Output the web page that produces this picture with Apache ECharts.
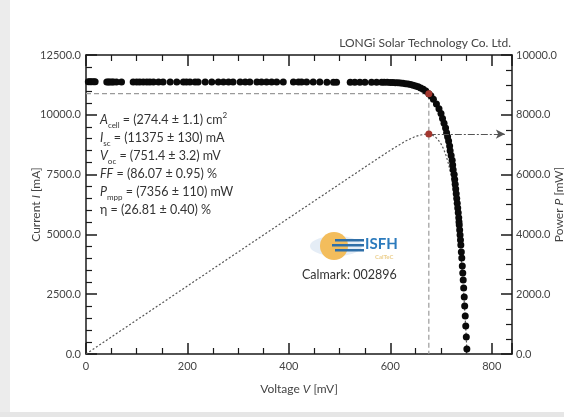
<!DOCTYPE html>
<html>
<head>
<meta charset="utf-8">
<script src="https://cdn.jsdelivr.net/npm/echarts@6/dist/echarts.min.js"></script>
<style>
  html, body { margin: 0; padding: 0; background: #fff; }
  #wrap { position: relative; width: 564px; height: 417px; overflow: hidden; }
  .edge-left { position: absolute; left: 0; top: 0; width: 10px; height: 417px; background: #ececec; }
  .edge-bottom { position: absolute; left: 0; top: 412px; width: 564px; height: 5px; background: #e6e6e6; }
  #chart { position: absolute; left: 0; top: 0; width: 564px; height: 417px; }
</style>
</head>
<body>
<div id="wrap">
  <div class="edge-left"></div>
  <div class="edge-bottom"></div>
  <div id="chart"></div>
</div>
<script>
var ivVoltage = [4.6, 8, 11, 15, 18, 41, 44, 47, 51, 54, 60, 70, 93, 100, 106, 113, 120, 126, 133, 143,
  152, 166, 179, 192, 198, 205, 215, 221, 235, 248, 261, 271, 281, 290, 304, 314, 323, 337, 346, 356,
  366, 376, 389, 409, 419, 425, 435, 448, 461, 475, 488, 494, 521, 530, 540, 550, 563, 573, 583,
  588, 594, 600, 605, 610, 615, 620, 625, 630, 635, 640, 645, 650, 655, 660, 665, 670, 676, 680,
  685, 691, 696, 700, 703, 706, 709, 711, 713, 715, 717, 718, 720, 722, 723, 724, 726, 727, 728,
  729, 730, 731, 732, 733, 734, 735, 735.5, 736, 736.8, 737.6, 738.4, 739.1, 740.1, 741, 742,
  742.9, 743.8, 744.7, 745.8, 746.7, 747.8, 748.8, 749.9, 751];
var ivCurrent = [11378, 11378, 11377, 11377, 11377, 11376, 11376, 11376, 11376, 11375, 11375, 11375, 11375, 11375, 11375, 11374, 11374, 11374, 11374, 11374,
  11374, 11373, 11373, 11373, 11373, 11372, 11372, 11372, 11372, 11372, 11371, 11371, 11371, 11371, 11370, 11370, 11370, 11370, 11369, 11369,
  11369, 11369, 11368, 11368, 11368, 11367, 11367, 11367, 11367, 11366, 11366, 11366, 11365, 11365, 11365, 11364, 11364, 11363, 11363,
  11362, 11358, 11354, 11349, 11344, 11336, 11327, 11317, 11303, 11285, 11265, 11240, 11209, 11170, 11123, 11064, 10992, 10882, 10800,
  10650, 10450, 10250, 10050, 9850, 9650, 9450, 9250, 9078, 8900, 8700, 8500, 8300, 8100, 7900, 7700, 7500, 7300, 7100,
  6900, 6700, 6500, 6300, 6100, 5900, 5700, 5518, 5393, 5184, 4975, 4766, 4557, 4264, 4013, 3679,
  3386, 3094, 2759, 2383, 2007, 1589, 1171, 711, 209];

// power curve (mV, mW)
var powerVoltage = [0, 100, 200, 300, 400, 500, 560, 600, 630, 650, 660, 668, 676, 682, 688, 694, 700,
  705, 710, 715, 720, 725, 730, 735, 740, 745, 749, 751.4];
var powerValue = [0, 1137, 2275, 3412, 4549, 5683, 6364, 6812, 7121, 7280, 7325, 7348, 7356, 7327, 7269, 7172, 7027,
  6860, 6637, 6350, 5976, 5500, 4900, 4140, 3180, 1984, 811, 0];

// maximum power point
var mppVoltage = 676;
var mppCurrent = 10882;
var mppPower = 7356;
var arrowEndVoltage = 826;

var xTicks = [0, 200, 400, 600, 800];
var currentTicks = [0, 2500, 5000, 7500, 10000, 12500];
var powerTicks = [0, 2000, 4000, 6000, 8000, 10000];

var font = 'Lato';
var textColor = '#444';
var axisColor = '#1a1a1a';

function pairs(xs, ys) {
  return xs.map(function (x, i) { return [x, ys[i]]; });
}

var axisCommon = {
  axisLine: { show: true, onZero: false, lineStyle: { color: axisColor, width: 1.5 } },
  axisTick: { show: true, inside: true, length: 11, lineStyle: { color: axisColor, width: 1.5 } },
  splitLine: { show: false },
  nameMoveOverlap: false
};

function axis(extra) {
  return Object.assign({}, JSON.parse(JSON.stringify(axisCommon)), extra);
}

function minor(n) {
  return { show: true, splitNumber: n, length: 6, lineStyle: { color: axisColor, width: 1.2 } };
}

function axisName(word, sym, unit) {
  return '{n|' + word + ' }{i|' + sym + '}{n| [' + unit + ']}';
}

var nameRich = {
  rich: {
    n: { fontSize: 12, fontFamily: font, color: textColor },
    i: { fontSize: 12, fontFamily: font, color: textColor, fontStyle: 'italic' }
  }
};

var chart = echarts.init(document.getElementById('chart'));

var option = {
  animation: false,
  backgroundColor: 'transparent',
  grid: { left: 86, right: 52, top: 55, bottom: 63, containLabel: false, outerBoundsMode: 'none' },
  xAxis: [
    axis({
      type: 'value', position: 'bottom', min: 0, max: 840, interval: 200,
      minorTick: minor(4),
      axisLabel: {
        margin: 7, color: textColor, fontSize: 11, fontFamily: font, showMaxLabel: false,
        formatter: function (v) { return xTicks.indexOf(v) >= 0 ? String(v) : ''; }
      },
      name: axisName('Voltage', 'V', 'mV'), nameLocation: 'middle', nameGap: 29,
      nameTextStyle: nameRich
    }),
    axis({
      type: 'value', position: 'top', min: 0, max: 840, interval: 200,
      minorTick: minor(4),
      axisLabel: { show: false }
    })
  ],
  yAxis: [
    axis({
      type: 'value', position: 'left', min: 0, max: 12500, interval: 2500,
      minorTick: minor(5),
      axisLabel: {
        margin: 5, color: textColor, fontSize: 11, fontFamily: font,
        formatter: function (v) { return currentTicks.indexOf(v) >= 0 ? v.toFixed(1) : ''; }
      },
      name: axisName('Current', 'I', 'mA'), nameLocation: 'middle', nameGap: 44,
      nameTextStyle: nameRich
    }),
    axis({
      type: 'value', position: 'right', min: 0, max: 10000, interval: 2000,
      minorTick: minor(4),
      axisLabel: {
        margin: 4, color: textColor, fontSize: 11, fontFamily: font,
        formatter: function (v) { return powerTicks.indexOf(v) >= 0 ? v.toFixed(1) : ''; }
      },
      name: axisName('Power', 'P', 'mW'), nameLocation: 'middle', nameGap: 41, nameRotate: 90,
      nameTextStyle: nameRich
    })
  ],
  series: [
    {
      name: 'guide', type: 'line', xAxisIndex: 0, yAxisIndex: 0,
      data: [[0, mppCurrent], [mppVoltage, mppCurrent], [mppVoltage, 0]],
      showSymbol: false, silent: true, z: 1,
      lineStyle: { color: '#9a9a9a', width: 1.2, type: [5, 3] }
    },
    {
      name: 'power', type: 'line', xAxisIndex: 0, yAxisIndex: 1,
      data: pairs(powerVoltage, powerValue),
      showSymbol: false, smooth: false, z: 2,
      lineStyle: { color: '#555', width: 1.2, type: [2, 2] },
      markLine: {
        silent: true, symbol: ['none', 'arrow'], symbolSize: [7, 9],
        label: { show: false },
        lineStyle: { color: '#555', width: 1.2, type: [7, 2, 2, 2] },
        data: [[{ coord: [mppVoltage, mppPower] }, { coord: [arrowEndVoltage, mppPower] }]]
      }
    },
    {
      name: 'I-V', type: 'scatter', xAxisIndex: 0, yAxisIndex: 0,
      data: pairs(ivVoltage, ivCurrent),
      symbolSize: 7, z: 3,
      itemStyle: { color: '#0a0a0a', opacity: 1 }
    },
    {
      name: 'mpp current', type: 'scatter', xAxisIndex: 0, yAxisIndex: 0,
      data: [[mppVoltage, mppCurrent]], symbolSize: 7, z: 5,
      itemStyle: { color: '#a3372f', opacity: 1 }
    },
    {
      name: 'mpp power', type: 'scatter', xAxisIndex: 0, yAxisIndex: 1,
      data: [[mppVoltage, mppPower]], symbolSize: 7, z: 5,
      itemStyle: { color: '#a3372f', opacity: 1 }
    }
  ],
  graphic: [
    {
      type: 'text', right: 53, top: 37,
      style: { text: 'LONGi Solar Technology Co. Ltd.', fontSize: 12, fontFamily: font, fill: textColor }
    },
    {
      type: 'text', left: 100, top: 111,
      style: {
        text: [
          '{i|A}{s|cell}{n| = (274.4 ± 1.1) cm}{p|2}',
          '{i|I}{s|sc}{n| = (11375 ± 130) mA}',
          '{i|V}{s|oc}{n| = (751.4 ± 3.2) mV}',
          '{i|FF}{n| = (86.07 ± 0.95) %}',
          '{i|P}{s|mpp}{n| = (7356 ± 110) mW}',
          '{n|η = (26.81 ± 0.40) %}'
        ].join('\n'),
        fill: '#333',
        rich: {
          n: { fontSize: 12.5, fontFamily: font, fill: '#333', lineHeight: 18 },
          i: { fontSize: 12.5, fontFamily: font, fill: '#333', fontStyle: 'italic', lineHeight: 18 },
          s: { fontSize: 8, fontFamily: font, fill: '#333', verticalAlign: 'bottom', lineHeight: 12 },
          p: { fontSize: 8, fontFamily: font, fill: '#333', verticalAlign: 'top', lineHeight: 18 }
        }
      }
    },
    // ISFH logo
    {
      type: 'group', left: 310, top: 232, silent: true,
      children: [
        { type: 'ellipse', shape: { cx: 24, cy: 16, rx: 26, ry: 10 }, style: { fill: 'rgba(150,185,220,0.25)' } },
        { type: 'circle', shape: { cx: 22, cy: 16, r: 14 }, style: { fill: '#f3bd5c' } },
        { type: 'rect', shape: { x: 23, y: 9, width: 29, height: 2.5 }, style: { fill: '#2f6fa8' } },
        { type: 'rect', shape: { x: 20, y: 14, width: 32, height: 2.5 }, style: { fill: '#2f6fa8' } },
        { type: 'rect', shape: { x: 23, y: 19, width: 29, height: 2.5 }, style: { fill: '#2f6fa8' } },
        {
          type: 'text', x: 53, y: 7,
          style: { text: 'ISFH', fontSize: 15, fontWeight: 'bold', fontFamily: font, fill: '#2c7bbd' }
        },
        {
          type: 'text', x: 63, y: 24,
          style: { text: 'CalTeC', fontSize: 6, fontWeight: 'bold', fontFamily: font, fill: '#eccf8e' }
        }
      ]
    },
    {
      type: 'text', left: 302, top: 268,
      style: { text: 'Calmark: 002896', fontSize: 12.5, fontFamily: font, fill: '#333' }
    }
  ]
};

chart.setOption(option);
</script>
</body>
</html>
